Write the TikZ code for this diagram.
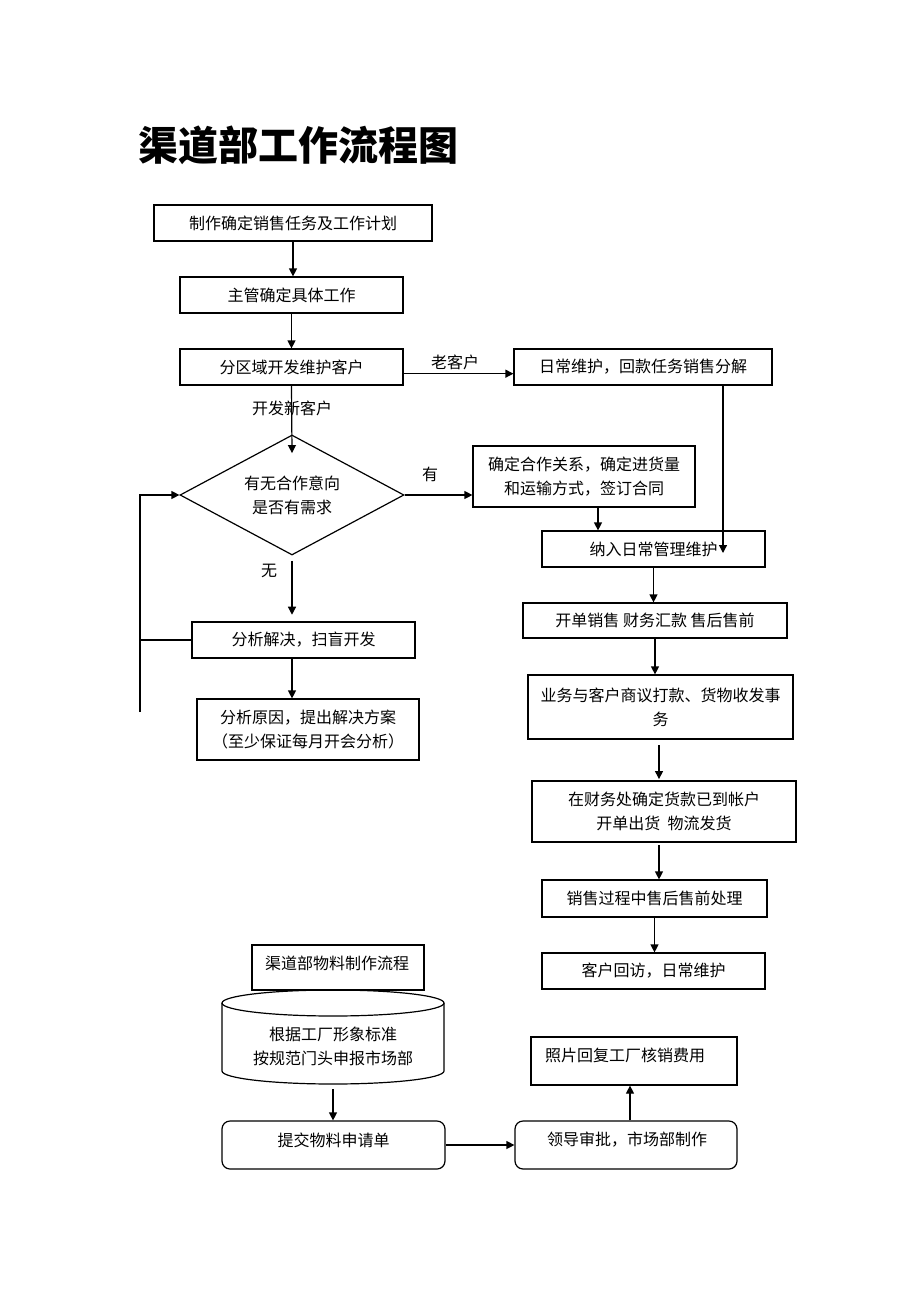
\documentclass[tikz,border=0pt]{standalone}
\usepackage{fontspec}
\setmainfont{Noto Sans CJK SC}
\usetikzlibrary{arrows.meta,shapes.geometric}
\begin{document}
\begin{tikzpicture}[x=0.75pt,y=-0.75pt,
 box/.style={draw, line width=0.9pt, inner sep=0pt, align=center, font=\fontsize{12}{18}\selectfont},
 rbox/.style={box, rounded corners=6pt},
 lbl/.style={inner sep=0pt, align=center, font=\fontsize{12}{18}\selectfont},
 arr/.style={line width=0.9pt, -{Triangle[length=6pt,width=6pt]}},
 ln/.style={line width=0.9pt}]
\useasboundingbox (0,0) rectangle (920,1302);
\fill[white] (0,0) rectangle (920,1302);

% title
\node[lbl, anchor=west, font=\fontsize{30}{36}\selectfont\bfseries] (title) at (138,145) {渠道部工作流程图};

% main flow
\node[box, minimum width={278*0.75pt}, minimum height={36*0.75pt}] (b1) at (293,223) {制作确定销售任务及工作计划};
\node[box, minimum width={223*0.75pt}, minimum height={36*0.75pt}] (b2) at (291.5,295) {主管确定具体工作};
\node[box, minimum width={223*0.75pt}, minimum height={36*0.75pt}] (b3) at (291.5,367) {分区域开发维护客户};
\node[box, minimum width={258*0.75pt}, minimum height={36*0.75pt}] (b4) at (643,367) {日常维护，回款任务销售分解};
\node[draw, line width=0.9pt, diamond, aspect=1.87, inner sep=0pt, minimum width={224*0.75pt}, minimum height={120*0.75pt}, align=center, font=\fontsize{12}{18}\selectfont] (d) at (292,495) {有无合作意向\\是否有需求};
\node[box, minimum width={222*0.75pt}, minimum height={61*0.75pt}] (b5) at (584,476.5) {确定合作关系，确定进货量\\和运输方式，签订合同};
\node[box, minimum width={223*0.75pt}, minimum height={36*0.75pt}] (b6) at (653.5,549) {纳入日常管理维护};
\node[box, minimum width={264*0.75pt}, minimum height={35*0.75pt}] (b7) at (655,620.5) {开单销售\ 财务汇款\ 售后售前};
\node[box, minimum width={265*0.75pt}, minimum height={64*0.75pt}] (b8) at (660.5,707) {业务与客户商议打款、货物收发事\\务};
\node[box, minimum width={264*0.75pt}, minimum height={61*0.75pt}] (b9) at (664,811.5) {在财务处确定货款已到帐户\\开单出货\ \ 物流发货};
\node[box, minimum width={225*0.75pt}, minimum height={37*0.75pt}] (b10) at (654.5,898.5) {销售过程中售后售前处理};
\node[box, minimum width={223*0.75pt}, minimum height={36*0.75pt}] (b11) at (653.5,971) {客户回访，日常维护};
\node[box, minimum width={223*0.75pt}, minimum height={36*0.75pt}] (b12) at (303.5,640) {分析解决，扫盲开发};
\node[box, minimum width={222*0.75pt}, minimum height={61*0.75pt}] (b13) at (308,729.5) {分析原因，提出解决方案\\（至少保证每月开会分析）};

% labels
\node[lbl] (l1) at (455,362) {老客户};
\node[lbl] (l2) at (292,408) {开发新客户};
\node[lbl] (l3) at (430,474) {有};
\node[lbl] (l4) at (269,571) {无};

% connectors main
\draw[arr] (b1.south) -- (b1.south |- b2.north);
\draw[arr] (b2.south) -- (b2.south |- b3.north);
\draw[arr] ([yshift=-5pt]b3.east) -- ([yshift=-5pt]b3.east -| b4.west);
\draw[arr] (b3.south) -- ([yshift=-14pt]d.north);
\draw[arr] (d.east) -- (d.east -| b5.west);
\draw[arr] ([xshift=10.5pt]b5.south) -- ([xshift=10.5pt]b5.south |- b6.north);
\coordinate (j1) at (723,553);
\draw[arr] (b4.south -| j1) -- (j1);
\draw[arr] (b6.south) -- (b6.south |- b7.north);
\draw[arr] (b7.south) -- (b7.south |- b8.north);
\coordinate (j3) at (659,745);
\draw[arr] (j3) -- ([yshift=1pt]j3 |- b9.north);
\coordinate (j2) at (659,845);
\draw[arr] (j2) -- (j2 |- b10.north);
\draw[arr] (b10.south) -- (b10.south |- b11.north);
\draw[arr] ([yshift=-4pt]d.south) -- ([yshift=5pt]d.south |- b12.north);
\draw[arr] (d.south |- b12.south) -- (d.south |- b13.north);
\coordinate (fb1) at (140,712);
\coordinate (fb2) at (140,495);
\draw[arr] (fb1) -- (fb2) -- (d.west);
\draw[ln] (b12.west) -- (b12.west -| fb1);

% bottom flow
\node[box, minimum width={172*0.75pt}, minimum height={45*0.75pt}] (b14) at (338,967.5) {};
\node[lbl] (t14) at (337,963) {渠道部物料制作流程};
\draw[ln, fill=white] (222,1003) -- (222,1071) arc[start angle=180, end angle=360, x radius=83.25pt, y radius=9.75pt] -- (444,1003);
\draw[ln] (333,1003) ellipse [x radius=83.25pt, y radius=9.75pt];
\node[inner sep=0pt, minimum width={222*0.75pt}, minimum height={97*0.75pt}] (cyl) at (333,1038) {};
\node[lbl] (tcyl) at (333,1046) {根据工厂形象标准\\按规范门头申报市场部};
\node[rbox, minimum width={223*0.75pt}, minimum height={48*0.75pt}] (b15) at (333.5,1145) {};
\node[lbl] (t15) at (333.5,1140) {提交物料申请单};
\node[rbox, minimum width={222*0.75pt}, minimum height={48*0.75pt}] (b16) at (626,1145) {};
\node[lbl] (t16) at (627,1140) {领导审批，市场部制作};
\node[box, minimum width={206*0.75pt}, minimum height={48*0.75pt}] (b17) at (634,1061) {};
\node[lbl] (t17) at (625,1055) {照片回复工厂核销费用};

\draw[arr] ([yshift=-2pt]cyl.south) -- (cyl.south |- b15.north);
\draw[arr] (b15.east) -- (b16.west);
\draw[arr] ([xshift=3pt]b16.north) -- ([xshift=3pt]b16.north |- b17.south);
\end{tikzpicture}
\end{document}
